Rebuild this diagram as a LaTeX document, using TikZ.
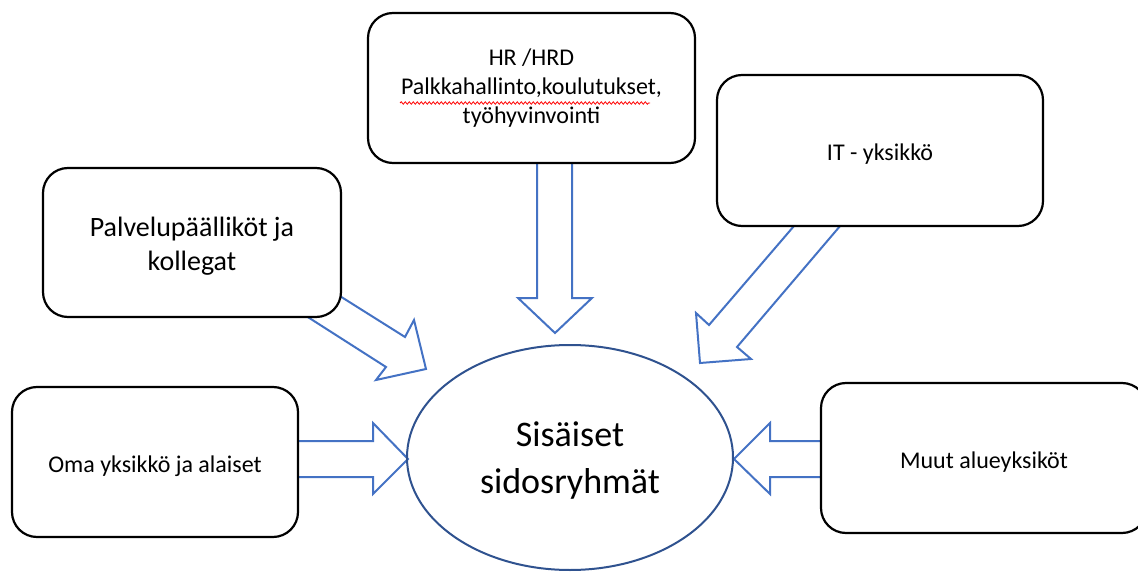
\documentclass[tikz,border=0pt]{standalone}
\usepackage{fontspec}
\setmainfont{Carlito}
\usetikzlibrary{shapes.geometric,calc,decorations.pathmorphing}
\definecolor{arrowblue}{HTML}{4472C4}
\definecolor{ellblue}{HTML}{2F528F}
\tikzset{
  box/.style={draw=black, line width=2.2pt, fill=white, rounded corners=25pt,
    inner sep=0pt},
  boxtext/.style={inner sep=0pt, align=center, text=black, font=\fontsize{24}{28.8}\selectfont},
  blockarrow/.style={draw=arrowblue, line width=2pt, fill=white, line join=miter},
  core/.style={ellipse, draw=ellblue, line width=2pt, inner sep=0pt},
  coretext/.style={inner sep=0pt, align=center, text=black, font=\fontsize{36}{47}\selectfont},
  spell/.style={draw=red, line width=0.8pt, decorate,
    decoration={snake, amplitude=1.2pt, segment length=4pt}}
}
\begin{document}
\begin{tikzpicture}[x=1pt,y=-1pt]
\useasboundingbox (0,0) rectangle (1138,572);
\clip (0,0) rectangle (1138,572);
% block arrows (drawn first, tails hidden under the boxes)
\draw[blockarrow] (537,150) -- (537,298) -- (518,298) -- (555,333) -- (592,298) -- (572,298) -- (572,150) -- cycle;
\draw[blockarrow] (308,276) -- (405,337) -- (414,320) -- (426,369) -- (376,380) -- (386,367) -- (278,298) -- cycle;
\draw[blockarrow] (806,212) -- (709,325) -- (696,313) -- (700,363) -- (751,359) -- (737,347) -- (852,212) -- cycle;
\draw[blockarrow] (288,441) -- (373,441) -- (373,423) -- (408,459) -- (373,494) -- (373,477) -- (288,477) -- cycle;
\draw[blockarrow] (832,441) -- (770,441) -- (770,423) -- (734,459) -- (770,494) -- (770,477) -- (832,477) -- cycle;
% boxes
\node[box, minimum width=327pt, minimum height=150pt] (hr) at (531.5,88) {};
\node[box, minimum width=326pt, minimum height=151pt] (it) at (880,150.5) {};
\node[box, minimum width=298pt, minimum height=149pt] (pal) at (192,242.5) {};
\node[box, minimum width=286pt, minimum height=150pt] (oma) at (155,462) {};
\node[box, minimum width=326pt, minimum height=150pt] (muut) at (984,458) {};
% box texts
\node[boxtext] (hrt) at (hr.center) {HR /HRD\\Palkkahallinto,koulutukset,\\työhyvinvointi};
\node[boxtext] (itt) at ($(it.center)+(0,4)$) {IT - yksikkö};
\node[boxtext, font=\fontsize{28}{34}\selectfont] (palt) at ($(pal.center)+(0,4)$) {Palvelupäälliköt ja\\kollegat};
\node[boxtext] (omat) at ($(oma.center)+(0,4)$) {Oma yksikkö ja alaiset};
\node[boxtext] (muutt) at ($(muut.center)+(0,4)$) {Muut alueyksiköt};
% centre ellipse
\node[core, minimum width=326pt, minimum height=225pt] (core) at (570,457.5) {};
\node[coretext] (coret) at ($(core.center)+(0,3)$) {Sisäiset\\sidosryhmät};
% spell-check underline
\draw[spell] ($(hr.center)+(-131.5,15)$) -- ($(hr.center)+(118.5,15)$);
\end{tikzpicture}
\end{document}
